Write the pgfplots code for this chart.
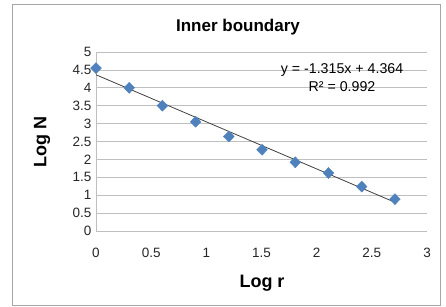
\documentclass[border=0pt]{standalone}
\usepackage{pgfplots}
\pgfplotsset{compat=1.18}
\usepackage{fontspec}
\setmainfont{Liberation Sans}
\definecolor{excelblue}{HTML}{4F81BD}
\definecolor{gridgray}{HTML}{BFBFBF}
\begin{document}
\begin{tikzpicture}[x=1pt,y=1pt]
\useasboundingbox (-96,-76) rectangle (350,231);
\draw[color=gray!70, line width=1pt] (-83,-74) rectangle (344,226);
\begin{axis}[
  at={(0,0)}, anchor=origin,
  scale only axis, width=331pt, height=179pt,
  xmin=0, xmax=3, ymin=0, ymax=5,
  xtick={0,0.5,...,3}, ytick={0,0.5,...,5},
  xticklabels={0,0.5,1,1.5,2,2.5,3},
  yticklabels={0,0.5,1,1.5,2,2.5,3,3.5,4,4.5,5},
  axis x line*=bottom, axis y line*=left,
  axis line style={gridgray, -},
  ymajorgrids, grid style={gridgray, line width=0.8pt},
  major tick length=0pt,
  tick label style={font=\fontsize{13.5}{15}\selectfont, color=black!85},
  xticklabel style={yshift=-14pt},
  yticklabel style={xshift=-1pt},
  clip=false,
]
\addplot[draw=black!75, line width=0.8pt] coordinates {(0,4.364) (2.709,0.802)};
\addplot[only marks, mark=diamond*, mark size=5.5pt, mark options={xscale=1.3, fill=excelblue, draw=excelblue}]
  coordinates {
  (0,4.55) (0.301,4.00) (0.602,3.50) (0.903,3.05) (1.204,2.64)
  (1.505,2.27) (1.806,1.92) (2.107,1.62) (2.408,1.24) (2.709,0.89)};
\node[font=\fontsize{14.2}{16}\selectfont] at (axis cs:2.23,4.50) {y = -1.315x + 4.364};
\node[font=\fontsize{14.2}{16}\selectfont] at (axis cs:2.23,4.04) {R² = 0.992};
\end{axis}
\node[font=\fontsize{17}{20}\selectfont\bfseries] at (142,204) {Inner boundary};
\node[font=\fontsize{18}{21}\selectfont\bfseries, rotate=90] at (-54,89) {Log N};
\node[font=\fontsize{18}{21}\selectfont\bfseries] at (166,-52) {Log r};
\end{tikzpicture}
\end{document}
